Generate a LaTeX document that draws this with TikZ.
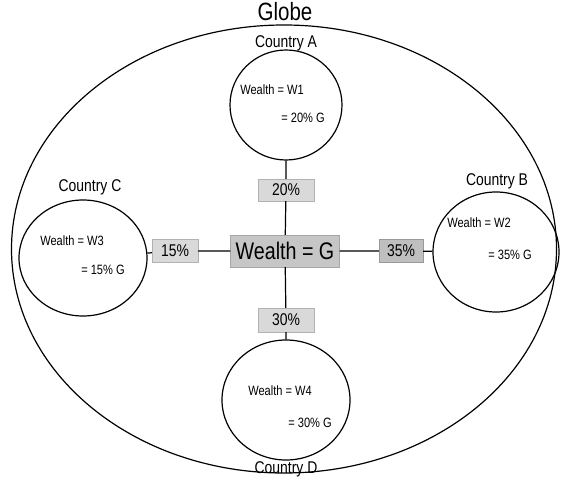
\documentclass[tikz,border=0pt]{standalone}
\usepackage{fontspec}
\setmainfont[FakeStretch=0.82]{Liberation Sans}
\usetikzlibrary{shapes.geometric}
\begin{document}
\begin{tikzpicture}[x=1pt,y=-1pt,
  country/.style={draw,line width=1.2pt,ellipse,inner sep=0pt},
  pct/.style={draw=gray!60,fill=gray!30,minimum width=46pt,minimum height=23pt,inner sep=0pt,font=\fontsize{17}{17}\selectfont},
  lbl/.style={font=\fontsize{17}{17}\selectfont},
  inner/.style={font=\fontsize{13.5}{13.5}\selectfont},
  conn/.style={line width=1.2pt}]
\useasboundingbox (0,0) rectangle (561,481);
\node[country,minimum width=545pt,minimum height=448pt] (globe) at (284,249) {};
\node[font=\fontsize{25}{25}\selectfont] (globet) at (285,12) {Globe};
\node[country,minimum width=112pt,minimum height=110pt] (A) at (286,105) {};
\node[country,minimum width=128pt,minimum height=116pt] (C) at (83,258) {};
\node[country,minimum width=126pt,minimum height=120pt] (B) at (496,252) {};
\node[country,minimum width=128pt,minimum height=120pt] (D) at (286,400) {};
\node[lbl] (At) at (286,43) {Country A};
\node[lbl] (Ct) at (90,187) {Country C};
\node[lbl] (Bt) at (497,181) {Country B};
\node[lbl] (Dt) at (286,469) {Country D};
\node[inner] (A1) at (272,90) {Wealth = W1};
\node[inner] (A2) at (303,118) {= 20\% G};
\node[inner] (C1) at (72,241) {Wealth = W3};
\node[inner] (C2) at (103,270) {= 15\% G};
\node[inner] (B1) at (479,223) {Wealth = W2};
\node[inner] (B2) at (510,255) {= 35\% G};
\node[inner] (D1) at (280,391) {Wealth = W4};
\node[inner] (D2) at (310,423) {= 30\% G};
\node[draw=gray!70,fill=gray!45,minimum width=109pt,minimum height=32pt,inner sep=0pt,font=\fontsize{24}{24}\selectfont] (G) at (285,251) {Wealth = G};
\node[pct,minimum width=56pt,minimum height=22pt] (p20) at (286,190) {20\%};
\node[pct] (p15) at (175,251) {15\%};
\node[pct,fill=gray!50,draw=gray!80,minimum width=44pt] (p35) at (401,251) {35\%};
\node[pct,minimum width=56pt,minimum height=24pt] (p30) at (286,320) {30\%};
\draw[conn] (A) -- (p20) -- (G);
\draw[conn] (C) -- (p15) -- (G);
\draw[conn] (B) -- (p35) -- (G);
\draw[conn] (D) -- (p30) -- (G);
\end{tikzpicture}
\end{document}
